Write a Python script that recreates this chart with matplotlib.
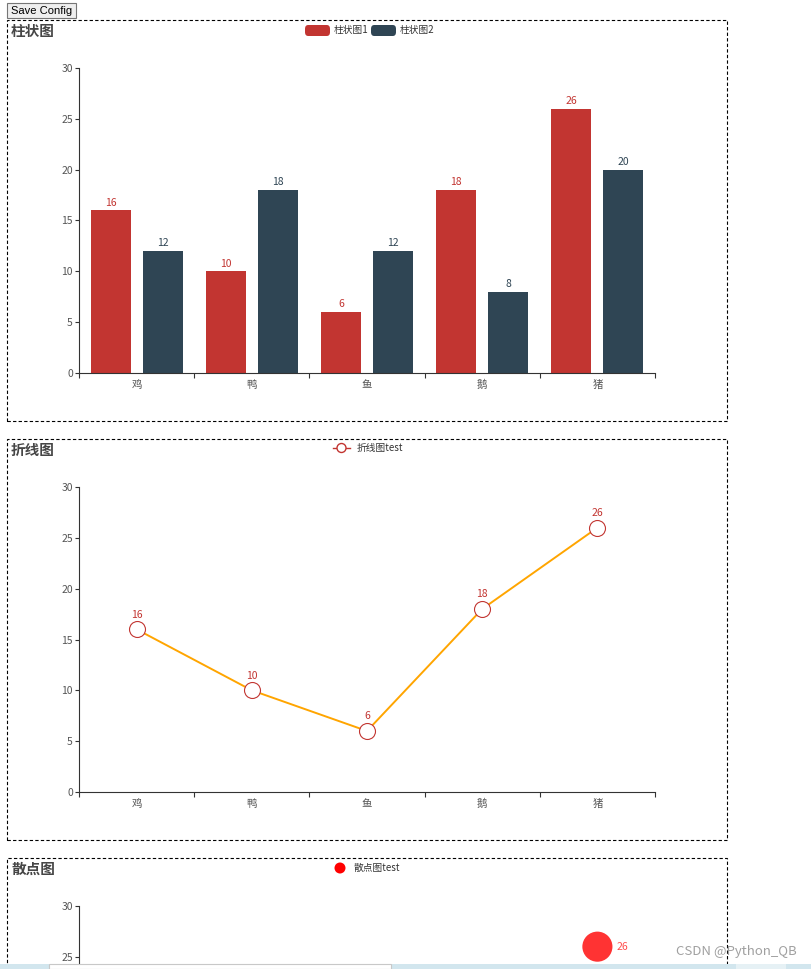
import matplotlib
matplotlib.use("Agg")
import matplotlib.pyplot as plt
from matplotlib import patches
import numpy as np

plt.rcParams['font.family'] = ['Noto Sans CJK SC', 'DejaVu Sans']

W, H = 812, 969

categories = ['鸡', '鸭', '鱼', '鹅', '猪']
bar1 = [16, 10, 6, 18, 26]
bar2 = [12, 18, 12, 8, 20]
line_vals = [16, 10, 6, 18, 26]
scatter_vals = [16, 10, 6, 18, 26]
yticks = [0, 5, 10, 15, 20, 25, 30]

RED = '#c23531'
NAVY = '#2f4554'
TXT = '#333333'
TICK = '#555555'


def rect(x0, x1, y_top, y_bot):
    return [x0 / W, 1 - y_bot / H, (x1 - x0) / W, (y_bot - y_top) / H]


def fx(x):
    return x / W


def fy(y):
    return 1 - y / H


def style_axis(ax, ylo=0, show_x=True):
    ax.set_xlim(-0.5, len(categories) - 0.5)
    ax.set_ylim(ylo, 30)
    for s in ['top', 'right']:
        ax.spines[s].set_visible(False)
    for s in ['left', 'bottom']:
        ax.spines[s].set_color(TXT)
        ax.spines[s].set_linewidth(0.8)
    ax.set_yticks([t for t in yticks if t >= ylo])
    ax.tick_params(axis='y', length=3, width=0.8, color=TXT, labelcolor=TICK,
                   labelsize=7.5, pad=1.5)
    if show_x:
        ax.set_xticks(range(len(categories)))
        ax.set_xticklabels(categories)
        ax.tick_params(axis='x', which='major', length=0, labelcolor=TICK,
                       labelsize=7.5, pad=5)
        ax.set_xticks(np.arange(-0.5, len(categories)), minor=True)
        ax.tick_params(axis='x', which='minor', length=3.6, width=0.8, color=TXT)
    else:
        ax.set_xticks([])
        ax.spines['bottom'].set_visible(False)
    ax.patch.set_alpha(0)


fig = plt.figure(figsize=(W / 100, H / 100), dpi=100)

# save config button
fig.patches.append(patches.Rectangle((fx(7), fy(18)), fx(69), 15 / H,
                                     transform=fig.transFigure, facecolor='#efefef',
                                     edgecolor='#767676', linewidth=0.8))
fig.text(fx(41.5), fy(10.5), 'Save Config', ha='center', va='center',
         fontsize=8, family=['Liberation Sans', 'DejaVu Sans'], color='black')

# dashed boxes
for top, bot in [(20, 421), (439, 840), (858, 1100)]:
    fig.patches.append(patches.Rectangle((fx(7), fy(bot)), fx(720), (bot - top) / H,
                                         transform=fig.transFigure, fill=False,
                                         edgecolor='black', linewidth=0.8,
                                         linestyle=(0, (3, 2))))

# titles
for title, y in [('柱状图', 31), ('折线图', 450), ('散点图', 869)]:
    fig.text(fx(11), fy(y), title, ha='left', va='center', fontsize=10.5,
             fontweight='bold', color='#464646')

# ---- bar chart
ax1 = fig.add_axes(rect(79, 655, 68, 373))
x = np.arange(len(categories))
bw = 0.347
off = 0.226
ax1.bar(x - off, bar1, width=bw, color=RED)
ax1.bar(x + off, bar2, width=bw, color=NAVY)
for xi, v in zip(x - off, bar1):
    ax1.annotate(str(v), (xi, v), xytext=(0, 2), textcoords='offset points',
                 ha='center', va='bottom', fontsize=7.5, color=RED)
for xi, v in zip(x + off, bar2):
    ax1.annotate(str(v), (xi, v), xytext=(0, 2), textcoords='offset points',
                 ha='center', va='bottom', fontsize=7.5, color=NAVY)
style_axis(ax1)

# legend for bar chart
for lx, col, lab in [(305, RED, '柱状图1'), (371, NAVY, '柱状图2')]:
    fig.patches.append(patches.FancyBboxPatch((fx(lx), fy(36)), fx(25), 11 / H,
                                              boxstyle='round,pad=0,rounding_size=0.004',
                                              transform=fig.transFigure,
                                              facecolor=col, edgecolor='none'))
    fig.text(fx(lx + 29), fy(30), lab, ha='left', va='center', fontsize=7, color=TXT)

# ---- line chart
ax2 = fig.add_axes(rect(79, 655, 487, 792))
ax2.plot(x, line_vals, color='#ffa500', linewidth=1.4, marker='o', markersize=11.5,
         markerfacecolor='white', markeredgecolor=RED, markeredgewidth=0.8, zorder=3)
for xi, v in zip(x, line_vals):
    ax2.annotate(str(v), (xi, v), xytext=(0, 7), textcoords='offset points',
                 ha='center', va='bottom', fontsize=7.5, color=RED)
style_axis(ax2)

fig.lines.append(plt.Line2D([fx(333), fx(350)], [fy(448), fy(448)],
                            transform=fig.transFigure, color=RED, linewidth=1,
                            zorder=5))
fig.patches.append(patches.Ellipse((fx(341.5), fy(448)), 9 / W, 9 / H,
                                   transform=fig.transFigure, facecolor='white',
                                   edgecolor=RED, linewidth=1, zorder=6))
fig.text(fx(357), fy(448), '折线图test', ha='left', va='center', fontsize=7, color=TXT)

# ---- scatter chart (only the top part is visible in the screenshot)
ax3 = fig.add_axes(rect(79, 655, 906, 969))
ax3.scatter(x, scatter_vals, s=470, color='#ff3333', edgecolors='none', zorder=3,
            clip_on=False)
for xi, v in zip(x, scatter_vals):
    if v >= 24:
        ax3.annotate(str(v), (xi, v), xytext=(14, 0), textcoords='offset points',
                     ha='left', va='center', fontsize=7.5, color='#ff4d4d')
style_axis(ax3, ylo=30 - 63 * 30 / 305, show_x=False)

fig.patches.append(patches.Ellipse((fx(340), fy(868)), 11 / W, 11 / H,
                                   transform=fig.transFigure, facecolor='red',
                                   edgecolor='none', zorder=6))
fig.text(fx(354), fy(868), '散点图test', ha='left', va='center', fontsize=7, color=TXT)

# watermark
fig.text(fx(797), fy(952), 'CSDN @Python_QB', ha='right', va='center', fontsize=9.5,
         color='#a0a0a0', zorder=20)

# bottom band
fig.patches.append(patches.Rectangle((0, 0), 1, 5 / H, transform=fig.transFigure,
                                     facecolor='#d2e6ee', edgecolor='none', zorder=20))
fig.patches.append(patches.Rectangle((fx(736), 0), fx(50), 5 / H, transform=fig.transFigure,
                                     facecolor='#e6f1f5', edgecolor='none', zorder=21))
fig.patches.append(patches.Rectangle((fx(49), 0), fx(342), 5 / H, transform=fig.transFigure,
                                     facecolor='white', edgecolor='#c8c8c8',
                                     linewidth=0.8, zorder=22))

fig.savefig('out.png', dpi=100)
